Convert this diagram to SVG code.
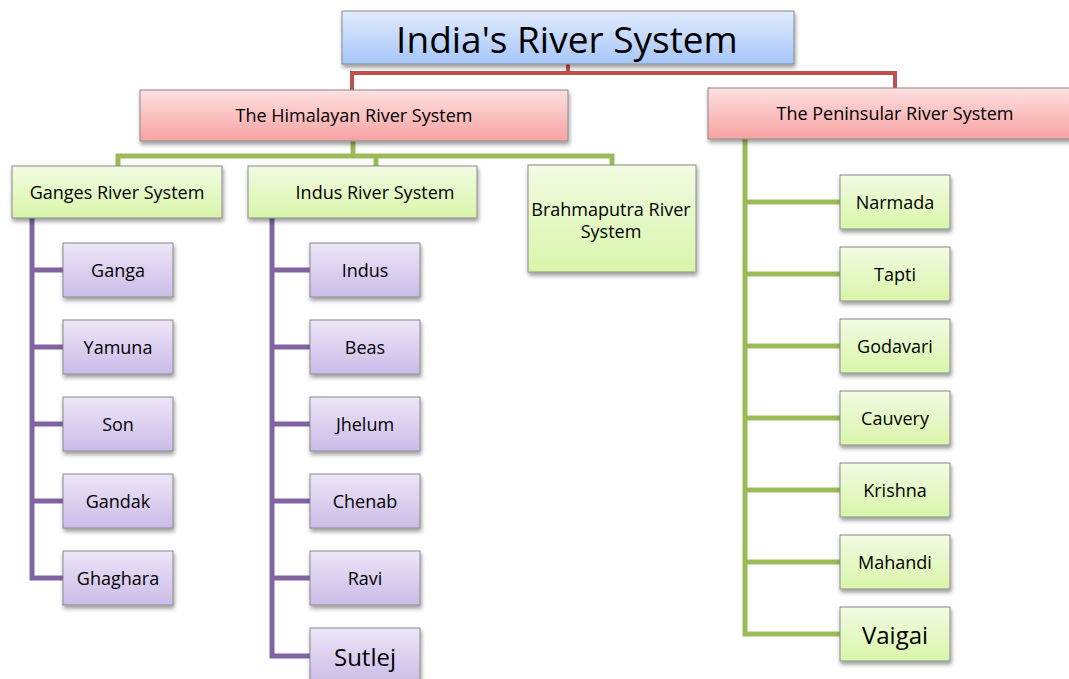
<svg xmlns="http://www.w3.org/2000/svg" width="1069" height="679" viewBox="0 0 1069 679">
<defs>
<linearGradient id="gBlue" x1="0" y1="0" x2="0" y2="1"><stop offset="0" stop-color="#e2ebfd"/><stop offset="1" stop-color="#a6c6fb"/></linearGradient>
<linearGradient id="gRed" x1="0" y1="0" x2="0" y2="1"><stop offset="0" stop-color="#fde0e0"/><stop offset="1" stop-color="#f8a2a2"/></linearGradient>
<linearGradient id="gGreen" x1="0" y1="0" x2="0" y2="1"><stop offset="0" stop-color="#f2fbe3"/><stop offset="1" stop-color="#d9f5a9"/></linearGradient>
<linearGradient id="gPurple" x1="0" y1="0" x2="0" y2="1"><stop offset="0" stop-color="#ede6f7"/><stop offset="1" stop-color="#cbbbe8"/></linearGradient>
<filter id="sh" x="-10%" y="-10%" width="130%" height="140%"><feDropShadow dx="1" dy="3" stdDeviation="2" flood-color="#000" flood-opacity="0.4"/></filter>
</defs>
<style>
rect{stroke:#8a8a8a;stroke-width:1;filter:url(#sh)}
.b{fill:url(#gBlue)}.r{fill:url(#gRed)}.g{fill:url(#gGreen)}.p{fill:url(#gPurple)}
text{font-family:"Open Sans","Noto Sans",sans-serif;fill:#000;text-anchor:middle;dominant-baseline:central}
.t{font-size:37px}.m{font-size:18px}.s{font-size:18px}.l{font-size:24px}
.cr{fill:none;stroke:#c0504d;stroke-width:4}
.cg{fill:none;stroke:#9bbb59;stroke-width:5}
.cp{fill:none;stroke:#8064a2;stroke-width:5}
</style>
<g id="connectors">
<path class="cr" d="M568 64V73H352V90M568 73H895V88"/>
<path class="cg" d="M353 141V156H118V166M353 156H612V165M376 156V166"/>
<path class="cp" d="M32 218V578H63M32 270H63M32 347H63M32 424H63M32 501H63"/>
<path class="cp" d="M272 218V656H310M272 270H310M272 347H310M272 424H310M272 501H310M272 578H310"/>
<path class="cg" d="M745 139V634H840M745 202H840M745 274H840M745 346H840M745 418H840M745 490H840M745 562H840"/>
</g>
<g id="title"><rect class="b" x="342" y="11" width="452" height="53"/><text class="t" x="567" y="38">India's River System</text></g>
<g id="himalayan"><rect class="r" x="140" y="90" width="428" height="51"/><text class="m" x="354" y="115">The Himalayan River System</text></g>
<g id="peninsular"><rect class="r" x="708" y="88" width="370" height="51"/><text class="m" x="895" y="113">The Peninsular River System</text></g>
<g id="ganges"><rect class="g" x="12" y="166" width="210" height="52"/><text class="m" x="117" y="192">Ganges River System</text></g>
<g id="indus-system"><rect class="g" x="248" y="166" width="229" height="52"/><text class="m" x="375" y="192">Indus River System</text></g>
<g id="brahmaputra"><rect class="g" x="528" y="165" width="168" height="107"/><text class="m" x="611" y="209">Brahmaputra River</text><text class="m" x="611" y="231">System</text></g>
<g id="ganga"><rect class="p" x="63" y="243" width="110" height="54"/><text class="s" x="118" y="270">Ganga</text></g>
<g id="yamuna"><rect class="p" x="63" y="320" width="110" height="54"/><text class="s" x="118" y="347">Yamuna</text></g>
<g id="son"><rect class="p" x="63" y="397" width="110" height="54"/><text class="s" x="118" y="424">Son</text></g>
<g id="gandak"><rect class="p" x="63" y="474" width="110" height="54"/><text class="s" x="118" y="501">Gandak</text></g>
<g id="ghaghara"><rect class="p" x="63" y="551" width="110" height="54"/><text class="s" x="118" y="578">Ghaghara</text></g>
<g id="indus"><rect class="p" x="310" y="243" width="110" height="54"/><text class="s" x="365" y="270">Indus</text></g>
<g id="beas"><rect class="p" x="310" y="320" width="110" height="54"/><text class="s" x="365" y="347">Beas</text></g>
<g id="jhelum"><rect class="p" x="310" y="397" width="110" height="54"/><text class="s" x="365" y="424">Jhelum</text></g>
<g id="chenab"><rect class="p" x="310" y="474" width="110" height="54"/><text class="s" x="365" y="501">Chenab</text></g>
<g id="ravi"><rect class="p" x="310" y="551" width="110" height="54"/><text class="s" x="365" y="578">Ravi</text></g>
<g id="sutlej"><rect class="p" x="310" y="628" width="110" height="56"/><text class="l" x="365" y="656">Sutlej</text></g>
<g id="narmada"><rect class="g" x="840" y="175" width="110" height="54"/><text class="s" x="895" y="202">Narmada</text></g>
<g id="tapti"><rect class="g" x="840" y="247" width="110" height="54"/><text class="s" x="895" y="274">Tapti</text></g>
<g id="godavari"><rect class="g" x="840" y="319" width="110" height="54"/><text class="s" x="895" y="346">Godavari</text></g>
<g id="cauvery"><rect class="g" x="840" y="391" width="110" height="54"/><text class="s" x="895" y="418">Cauvery</text></g>
<g id="krishna"><rect class="g" x="840" y="463" width="110" height="54"/><text class="s" x="895" y="490">Krishna</text></g>
<g id="mahandi"><rect class="g" x="840" y="535" width="110" height="54"/><text class="s" x="895" y="562">Mahandi</text></g>
<g id="vaigai"><rect class="g" x="840" y="607" width="110" height="54"/><text class="l" x="895" y="634">Vaigai</text></g>
</svg>
